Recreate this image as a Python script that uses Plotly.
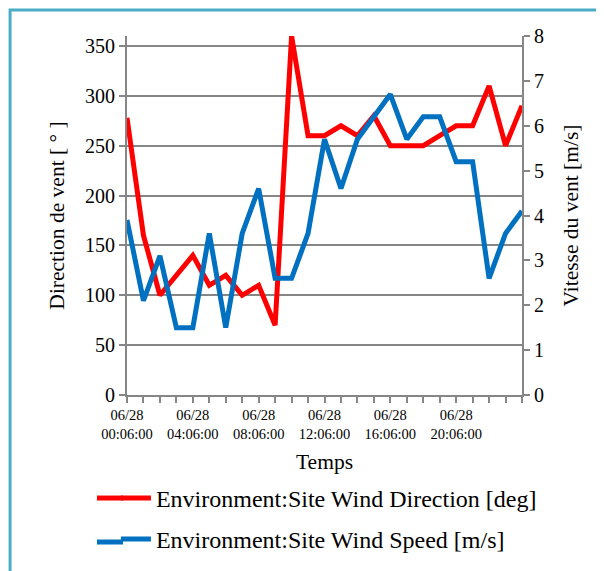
import plotly.graph_objects as go

times = ["06/28 %02d:06:00" % h for h in range(24)] + ["06/29 00:06:00"]
direction = [278, 160, 100, 120, 140, 110, 120, 100, 110, 70, 360, 260, 260, 270, 260, 280,
             250, 250, 250, 260, 270, 270, 310, 250, 290]
speed = [3.9, 2.1, 3.1, 1.5, 1.5, 3.6, 1.5, 3.6, 4.6, 2.6, 2.6, 3.6, 5.7, 4.6, 5.7, 6.2,
         6.7, 5.7, 6.2, 6.2, 5.2, 5.2, 2.6, 3.6, 4.1]
label_every = 4
tick_text = [t.replace(" ", "<br>") if (i % label_every == 0 and i < 24) else "" for i, t in enumerate(times)]
left_ticks = [0, 50, 100, 150, 200, 250, 300, 350]
right_ticks = [0, 1, 2, 3, 4, 5, 6, 7, 8]

FONT = "Liberation Serif"
GRAY = "#868686"
RED = "#ff0000"
BLUE = "#0070c0"

fig = go.Figure()
fig.add_trace(go.Scatter(x=times, y=direction, mode="lines", name="Environment:Site Wind Direction [deg]",
                         legendgroup="a", line=dict(color=RED, width=5), yaxis="y"))
fig.add_trace(go.Scatter(x=times, y=speed, mode="lines", name="Environment:Site Wind Speed [m/s]",
                         legendgroup="b", line=dict(color=BLUE, width=5), yaxis="y2"))

# extend the short legend line symbols to the left
ext = [dict(type="line", xref="paper", yref="paper", x0=-0.076, x1=-0.01, y0=yy, y1=yy,
            line=dict(color=c, width=5)) for yy, c in ((-0.287, RED), (-0.4095, BLUE))]

fig.update_layout(
    width=604, height=571,
    margin=dict(l=119, r=90, t=28, b=184, autoexpand=False),
    paper_bgcolor="white", plot_bgcolor="white",
    font=dict(family=FONT, color="black", size=18),
    xaxis=dict(type="category", range=[0, 24], tickmode="array", tickvals=times, ticktext=tick_text,
               ticks="outside", ticklen=6, tickcolor=GRAY, tickwidth=1.5, automargin=False,
               showline=True, linecolor=GRAY, linewidth=2, showgrid=False,
               tickfont=dict(family=FONT, size=14.5), tickangle=0,
               title=dict(text="Temps", font=dict(family=FONT, size=21.5), standoff=13)),
    yaxis=dict(range=[0, 360], tickmode="array", tickvals=left_ticks, automargin=False,
               ticks="outside", ticklen=6, tickcolor=GRAY, tickwidth=1.5,
               showline=True, linecolor=GRAY, linewidth=2,
               showgrid=True, gridcolor=GRAY, gridwidth=1.5, zeroline=False,
               tickfont=dict(family=FONT, size=20),
               title=dict(text="Direction de vent [ ° ]", font=dict(family=FONT, size=21.5), standoff=14)),
    yaxis2=dict(range=[0, 8], tickmode="array", tickvals=right_ticks, overlaying="y", side="right",
                ticks="outside", ticklen=6, tickcolor=GRAY, tickwidth=1.5, automargin=False,
                showline=True, linecolor=GRAY, linewidth=2, showgrid=False, zeroline=False,
                tickfont=dict(family=FONT, size=20),
                title=dict(text="Vitesse du vent [m/s]", font=dict(family=FONT, size=21.5), standoff=20)),
    legend=dict(orientation="v", x=-0.028, xanchor="left", y=-0.225, yanchor="top", traceorder="grouped",
                font=dict(family=FONT, size=24), tracegroupgap=7, bgcolor="rgba(0,0,0,0)"),
    shapes=[dict(type="rect", xref="paper", yref="paper", x0=-0.296, x1=1.25, y0=-0.55, y1=1.0724,
                 line=dict(color="#4bacc6", width=3), fillcolor="rgba(0,0,0,0)", layer="below")] + ext,
)

fig.write_html("out.html")
